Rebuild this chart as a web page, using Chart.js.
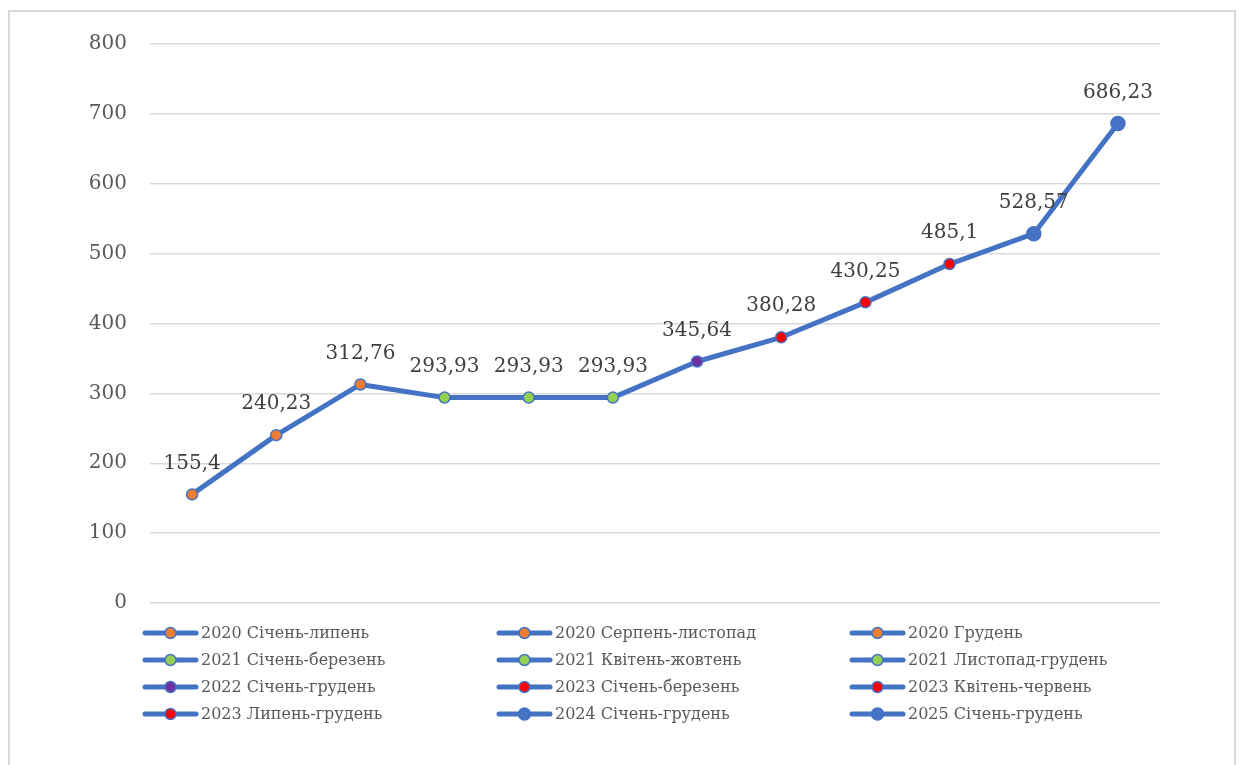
<!DOCTYPE html>
<html>
<head>
<meta charset="utf-8">
<script src="https://cdn.jsdelivr.net/npm/chart.js@4/dist/chart.umd.min.js"></script>
<style>
  html, body { margin:0; padding:0; background:#fff; overflow:hidden; }
  #frame { position:absolute; left:8px; top:10px; width:1228px; height:800px; border:2px solid #D9D9D9; box-sizing:border-box; }
  #c { position:absolute; left:0; top:0; }
</style>
</head>
<body>
<div id="frame"></div>
<canvas id="c" width="1241" height="765"></canvas>
<script>
const categories = [
  "2020 Січень-липень", "2020 Серпень-листопад", "2020 Грудень",
  "2021 Січень-березень", "2021 Квітень-жовтень", "2021 Листопад-грудень",
  "2022 Січень-грудень", "2023 Січень-березень", "2023 Квітень-червень",
  "2023 Липень-грудень", "2024 Січень-грудень", "2025 Січень-грудень"
];
const values = [155.4, 240.23, 312.76, 293.93, 293.93, 293.93, 345.64, 380.28, 430.25, 485.1, 528.57, 686.23];
const valueLabels = ["155,4", "240,23", "312,76", "293,93", "293,93", "293,93", "345,64", "380,28", "430,25", "485,1", "528,57", "686,23"];
const yTicks = [0, 100, 200, 300, 400, 500, 600, 700, 800];

const ORANGE = "#ED7D31", GREEN = "#92D050", PURPLE = "#7030A0", RED = "#FF0000", BLUE = "#4472C4";
const markerColors = [ORANGE, ORANGE, ORANGE, GREEN, GREEN, GREEN, PURPLE, RED, RED, RED, BLUE, BLUE];
const markerRadius = [5.5, 5.5, 5.5, 5.5, 5.5, 5.5, 5.5, 5.5, 5.5, 5.5, 7, 7];
const legendRadius = [5.5, 5.5, 5.5, 5.5, 5.5, 5.5, 5.5, 5.5, 5.5, 5.5, 6, 6];

const FONT = "'DejaVu Serif', serif";

const dataLabelPlugin = {
  id: 'dataLabels',
  afterDatasetsDraw(chart) {
    const ctx = chart.ctx;
    const meta = chart.getDatasetMeta(0);
    ctx.save();
    ctx.font = "20px " + FONT;
    ctx.fillStyle = "#404040";
    ctx.textAlign = "center";
    ctx.textBaseline = "middle";
    meta.data.forEach((pt, i) => {
      ctx.fillText(valueLabels[i], pt.x, pt.y - 31);
    });
    ctx.restore();
  }
};

const legendPlugin = {
  id: 'gridLegend',
  afterDraw(chart) {
    const ctx = chart.ctx;
    const colX = [143, 497, 850];
    const rowY = [633, 660, 687, 714];
    ctx.save();
    ctx.font = "16px " + FONT;
    ctx.textBaseline = "middle";
    ctx.textAlign = "left";
    categories.forEach((name, i) => {
      const x = colX[i % 3], y = rowY[Math.floor(i / 3)];
      ctx.strokeStyle = BLUE;
      ctx.lineWidth = 5;
      ctx.lineCap = "round";
      ctx.beginPath();
      ctx.moveTo(x + 2, y);
      ctx.lineTo(x + 53, y);
      ctx.stroke();
      ctx.beginPath();
      ctx.arc(x + 27.5, y, legendRadius[i], 0, Math.PI * 2);
      ctx.fillStyle = markerColors[i];
      ctx.fill();
      ctx.lineWidth = 1.5;
      ctx.strokeStyle = BLUE;
      ctx.stroke();
      ctx.fillStyle = "#595959";
      ctx.fillText(name, x + 58, y + 1);
    });
    ctx.restore();
  }
};

new Chart(document.getElementById('c'), {
  type: 'line',
  data: {
    labels: categories,
    datasets: [{
      data: values,
      borderColor: BLUE,
      borderWidth: 5,
      borderJoinStyle: 'round',
      borderCapStyle: 'round',
      tension: 0,
      fill: false,
      pointBackgroundColor: markerColors,
      pointBorderColor: BLUE,
      pointBorderWidth: 1.5,
      pointRadius: markerRadius,
      pointHoverRadius: markerRadius
    }]
  },
  options: {
    responsive: false,
    animation: false,
    events: [],
    layout: { padding: { left: 0, right: 81, top: 44, bottom: 162 } },
    plugins: { legend: { display: false }, tooltip: { enabled: false } },
    scales: {
      x: { display: false, offset: true },
      y: {
        min: 0, max: 800,
        afterFit(scale) { scale.width = 150; },
        afterBuildTicks(scale) { scale.ticks = yTicks.map(v => ({ value: v })); },
        ticks: {
          padding: 23,
          color: "#595959",
          font: { family: FONT, size: 20 },
          callback: v => String(v)
        },
        grid: { color: "#D9D9D9", lineWidth: 1.5, drawTicks: false },
        border: { display: false }
      }
    }
  },
  plugins: [dataLabelPlugin, legendPlugin]
});
</script>
</body>
</html>
